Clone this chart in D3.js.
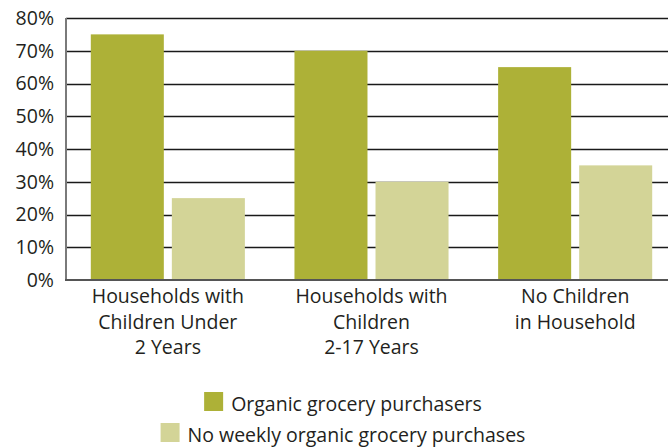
<!DOCTYPE html>
<html>
<head>
<meta charset="utf-8">
<script src="https://cdn.jsdelivr.net/npm/d3@7"></script>
<style>
  html, body { margin: 0; padding: 0; background: #fff; }
  svg { display: block; }
  text { font-family: "Open Sans", "Noto Sans", sans-serif; fill: #231f20; }
</style>
</head>
<body>
<svg id="chart" width="668" height="447"></svg>
<script>
// Household groups (label lines) and the share in each purchasing segment
const categories = [
  ["Households with", "Children Under", "2 Years"],
  ["Households with", "Children", "2-17 Years"],
  ["No Children", "in Household"]
];
const seriesNames = ["Organic grocery purchasers", "No weekly organic grocery purchases"];
const organicPurchasers = [75, 70, 65];
const noWeeklyPurchases = [25, 30, 35];
const yTicks = [0, 10, 20, 30, 40, 50, 60, 70, 80];
const colors = ["#adb137", "#d3d497"];

const svg = d3.select("#chart");
const W = 668, H = 447;
// the plot runs slightly past the right edge of the canvas
const margin = { top: 18, right: -9, bottom: 167, left: 66 };
const plotW = W - margin.left - margin.right;
const plotH = H - margin.top - margin.bottom;

const g = svg.append("g").attr("transform", `translate(${margin.left},${margin.top})`);

const x0 = d3.scaleBand()
  .domain(d3.range(categories.length))
  .range([0, plotW])
  .padding(0);

const x1 = d3.scaleBand()
  .domain(d3.range(seriesNames.length))
  .range([0, x0.bandwidth()])
  .paddingInner(0.099)
  .paddingOuter(0.306);

const y = d3.scaleLinear().domain([0, 80]).range([plotH, 0]);

// Horizontal gridlines
g.append("g")
  .selectAll("line")
  .data(yTicks.filter(t => t > 0))
  .join("line")
  .attr("x1", 0)
  .attr("x2", plotW)
  .attr("y1", d => Math.round(y(d)) + 0.5)
  .attr("y2", d => Math.round(y(d)) + 0.5)
  .attr("stroke", "#1a1a1a")
  .attr("stroke-width", 1.3);

// Bars
const values = [organicPurchasers, noWeeklyPurchases];
const groups = g.append("g")
  .selectAll("g")
  .data(categories.map((c, i) => i))
  .join("g")
  .attr("transform", i => `translate(${x0(i)},0)`);

groups.selectAll("rect")
  .data(i => values.map((s, k) => ({ k, v: s[i] })))
  .join("rect")
  .attr("x", d => x1(d.k))
  .attr("width", x1.bandwidth())
  .attr("y", d => y(d.v))
  .attr("height", d => y(0) - y(d.v))
  .attr("fill", d => colors[d.k]);

// Y axis
const yAxis = g.append("g")
  .call(d3.axisLeft(y).tickValues(yTicks).tickFormat(d => d + "%").tickSize(0).tickPadding(12));
yAxis.select(".domain").remove();
yAxis.selectAll("text")
  .attr("font-size", 19.5)
  .attr("font-family", "'Open Sans', 'Noto Sans', sans-serif")
  .attr("fill", "#231f20");

g.append("line")
  .attr("x1", 0).attr("x2", 0)
  .attr("y1", 0).attr("y2", plotH)
  .attr("stroke", "#7a7a7a")
  .attr("stroke-width", 2);

g.append("line")
  .attr("x1", -1).attr("x2", plotW)
  .attr("y1", plotH).attr("y2", plotH)
  .attr("stroke", "#555")
  .attr("stroke-width", 2);

// Category labels
const catLabels = g.append("g")
  .selectAll("text")
  .data(categories)
  .join("text")
  .attr("text-anchor", "middle")
  .attr("font-size", 19.5)
  .attr("transform", (d, i) => `translate(${x0(i) + x0.bandwidth() / 2},${plotH + 23})`);

catLabels.selectAll("tspan")
  .data(d => d)
  .join("tspan")
  .attr("x", 0)
  .attr("y", (d, j) => j * 25.5)
  .text(d => d);

// Legend, each row centred under the plot
const legendCx = 343;
const legendRows = [411, 442];
seriesNames.forEach((name, k) => {
  const row = svg.append("g");
  const t = row.append("text")
    .attr("font-size", 19.5)
    .attr("y", legendRows[k])
    .text(name);
  const tw = t.node().getComputedTextLength();
  const sw = 19, gap = 8;
  const total = sw + gap + tw;
  const left = legendCx - total / 2;
  t.attr("x", left + sw + gap);
  row.append("rect")
    .attr("x", left)
    .attr("y", legendRows[k] - 19)
    .attr("width", sw)
    .attr("height", sw)
    .attr("fill", colors[k]);
});
</script>
</body>
</html>
